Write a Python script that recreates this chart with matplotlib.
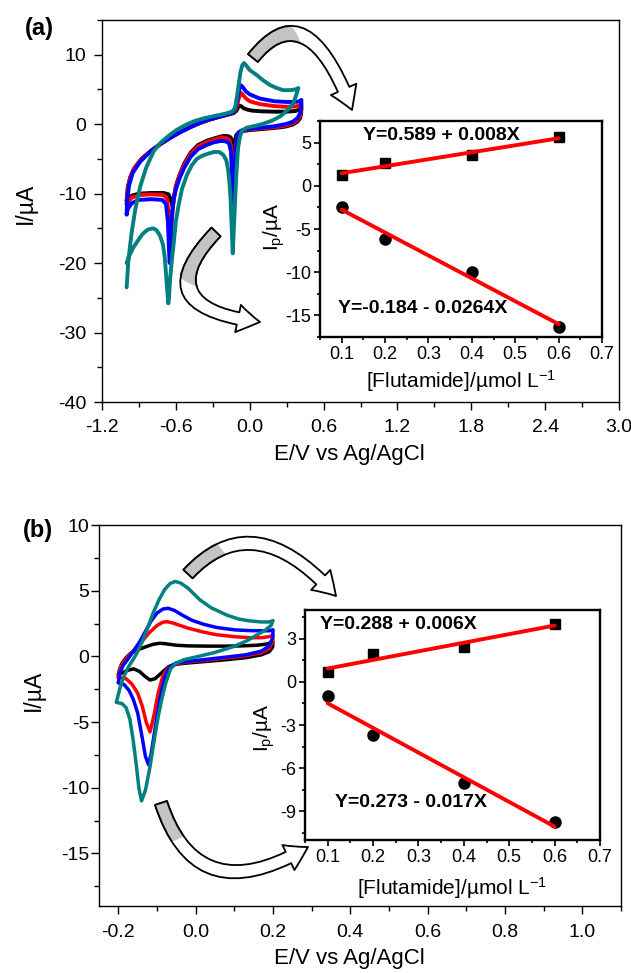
import matplotlib
matplotlib.use('Agg')
import matplotlib.pyplot as plt
from matplotlib.ticker import FixedLocator, MultipleLocator, FormatStrFormatter
from matplotlib.patches import FancyArrowPatch, Circle
from matplotlib.path import Path
from matplotlib.transforms import IdentityTransform
import numpy as np

plt.rcParams['font.family'] = ['Liberation Sans', 'DejaVu Sans']
plt.rcParams['mathtext.default'] = 'regular'
plt.rcParams['axes.unicode_minus'] = False

# ---------------- data: panel (a) CV curves (E / V, I / uA) ----------------
a_black = [(-1.00,-11.0),(-0.99,-9.0),(-0.97,-7.6),(-0.94,-6.4),(-0.88,-5.0),(-0.80,-3.8),(-0.72,-2.8),
           (-0.64,-1.9),(-0.56,-1.1),(-0.48,-0.4),(-0.40,0.2),(-0.32,0.7),(-0.24,1.1),(-0.17,1.4),
           (-0.13,1.6),(-0.11,1.9),(-0.095,2.4),(-0.085,2.7),(-0.07,2.6),(-0.05,2.3),(-0.02,2.1),
           (0.02,1.95),(0.10,1.85),(0.20,1.8),(0.30,1.8),(0.37,1.9),(0.41,2.1),(0.42,2.4),
           (0.418,1.6),(0.41,0.9),(0.39,0.4),(0.35,-0.05),(0.29,-0.35),(0.20,-0.55),(0.10,-0.7),
           (0.00,-0.85),(-0.06,-1.0),(-0.09,-1.2),(-0.11,-1.6),(-0.12,-2.3),(-0.13,-3.7),(-0.14,-2.6),
           (-0.155,-1.9),(-0.18,-1.7),(-0.22,-1.7),(-0.28,-2.0),(-0.35,-2.4),(-0.42,-3.0),(-0.48,-4.1),
           (-0.53,-5.6),(-0.57,-7.3),(-0.60,-8.9),(-0.615,-10.5),(-0.625,-12.0),(-0.64,-10.9),
           (-0.66,-10.1),(-0.70,-9.9),(-0.80,-9.9),(-0.90,-10.0),(-0.96,-10.3),(-1.00,-11.0)]
a_red = [(-1.00,-11.5),(-0.99,-9.2),(-0.97,-7.7),(-0.94,-6.4),(-0.88,-5.0),(-0.80,-3.8),(-0.72,-2.8),
         (-0.64,-1.9),(-0.56,-1.1),(-0.48,-0.4),(-0.40,0.2),(-0.32,0.7),(-0.24,1.1),(-0.17,1.45),
         (-0.13,1.7),(-0.11,2.3),(-0.095,3.3),(-0.08,4.2),(-0.07,4.5),(-0.055,4.2),(-0.03,3.7),
         (0.0,3.3),(0.08,2.9),(0.20,2.6),(0.30,2.5),(0.37,2.55),(0.41,2.7),(0.42,3.0),
         (0.418,2.0),(0.41,1.2),(0.39,0.6),(0.35,0.15),(0.29,-0.2),(0.20,-0.45),(0.10,-0.6),
         (0.00,-0.75),(-0.06,-0.9),(-0.09,-1.2),(-0.105,-2.0),(-0.115,-4.0),(-0.125,-7.0),
         (-0.132,-9.0),(-0.14,-6.5),(-0.15,-3.5),(-0.165,-2.3),(-0.19,-2.0),(-0.23,-1.9),
         (-0.29,-2.2),(-0.35,-2.6),(-0.42,-3.2),(-0.48,-4.3),(-0.53,-5.8),(-0.57,-7.4),(-0.60,-9.0),
         (-0.615,-10.5),(-0.628,-12.5),(-0.638,-15.5),(-0.645,-17.5),(-0.652,-15.5),(-0.66,-12.5),
         (-0.675,-10.6),(-0.70,-10.2),(-0.80,-10.1),(-0.90,-10.2),(-0.96,-10.6),(-1.00,-11.5)]
a_blue = [(-1.00,-13.0),(-0.995,-10.8),(-0.98,-8.8),(-0.95,-7.0),(-0.89,-5.4),(-0.81,-4.0),(-0.73,-2.9),
          (-0.65,-2.0),(-0.57,-1.2),(-0.49,-0.5),(-0.41,0.15),(-0.33,0.65),(-0.25,1.05),(-0.18,1.4),
          (-0.135,1.7),(-0.115,2.4),(-0.10,3.6),(-0.085,5.0),(-0.07,5.6),(-0.055,5.3),(-0.03,4.7),
          (0.0,4.3),(0.08,3.7),(0.20,3.3),(0.30,3.2),(0.37,3.2),(0.41,3.3),(0.42,3.5),
          (0.418,2.4),(0.41,1.6),(0.39,0.9),(0.35,0.35),(0.29,0.0),(0.20,-0.3),(0.10,-0.5),
          (0.00,-0.65),(-0.06,-0.85),(-0.09,-1.2),(-0.105,-2.2),(-0.115,-4.5),(-0.125,-8.0),
          (-0.133,-11.4),(-0.142,-8.0),(-0.152,-4.0),(-0.167,-2.8),(-0.19,-2.5),(-0.23,-2.4),
          (-0.29,-2.6),(-0.35,-3.0),(-0.42,-3.6),(-0.48,-4.7),(-0.53,-6.2),(-0.57,-7.8),(-0.60,-9.4),
          (-0.62,-11.0),(-0.635,-14.0),(-0.645,-18.0),(-0.65,-20.0),(-0.656,-18.0),(-0.665,-14.0),
          (-0.68,-11.5),(-0.71,-10.9),(-0.80,-10.8),(-0.90,-10.9),(-0.96,-11.4),(-0.99,-12.2),(-1.00,-13.0)]
a_teal = [(-1.00,-23.5),(-0.985,-19.5),(-0.96,-15.7),(-0.93,-12.3),(-0.89,-9.0),(-0.84,-6.2),(-0.78,-3.9),
          (-0.72,-2.6),(-0.66,-1.7),(-0.60,-0.9),(-0.52,-0.1),(-0.44,0.5),(-0.36,0.9),(-0.28,1.2),
          (-0.20,1.5),(-0.145,1.8),(-0.12,2.3),(-0.105,3.8),(-0.09,5.6),(-0.075,7.5),(-0.06,8.5),
          (-0.047,8.8),(-0.03,8.5),(0.0,7.8),(0.055,7.1),(0.11,6.3),(0.164,5.64),(0.22,5.2),
          (0.272,4.9),(0.33,4.9),(0.37,5.0),(0.395,5.2),
          (0.385,4.6),(0.37,3.8),(0.354,3.0),(0.32,2.3),(0.28,1.6),(0.246,1.1),(0.18,0.5),(0.10,0.0),
          (0.03,-0.3),(-0.025,-0.5),(-0.06,-0.9),(-0.08,-1.8),(-0.095,-3.5),(-0.108,-7.0),(-0.12,-11.5),
          (-0.13,-15.5),(-0.138,-18.6),(-0.146,-15.0),(-0.155,-11.0),(-0.164,-8.5),(-0.175,-6.6),
          (-0.19,-5.2),(-0.215,-4.4),(-0.25,-4.0),(-0.29,-4.0),(-0.33,-4.2),(-0.38,-4.5),(-0.43,-5.0),
          (-0.47,-5.9),(-0.51,-7.3),(-0.55,-9.3),(-0.58,-11.9),(-0.60,-14.0),(-0.615,-16.7),
          (-0.635,-20.0),(-0.648,-22.6),(-0.656,-25.0),(-0.661,-25.8),(-0.67,-24.0),(-0.68,-21.5),
          (-0.69,-19.2),(-0.705,-17.3),(-0.73,-16.0),(-0.76,-15.2),(-0.79,-15.0),(-0.83,-15.2),
          (-0.87,-15.8),(-0.91,-16.8),(-0.95,-17.9),(-0.98,-19.0),(-1.00,-20.0)]

# ---------------- data: panel (b) CV curves ----------------
b_black = [(-0.200,-1.4),(-0.197,-1.0),(-0.19,-0.5),(-0.18,-0.1),(-0.168,0.25),(-0.15,0.5),(-0.13,0.72),
           (-0.11,0.92),(-0.092,1.0),(-0.075,0.95),(-0.05,0.85),(-0.02,0.8),(0.03,0.78),(0.08,0.78),
           (0.12,0.8),(0.16,0.85),(0.185,0.95),(0.20,1.12),
           (0.199,0.7),(0.19,0.35),(0.17,0.12),(0.13,-0.1),(0.08,-0.25),(0.03,-0.38),(-0.02,-0.5),
           (-0.05,-0.6),(-0.07,-0.78),(-0.09,-1.3),(-0.105,-1.7),(-0.118,-1.8),(-0.13,-1.55),
           (-0.145,-1.15),(-0.16,-0.95),(-0.175,-1.05),(-0.19,-1.25),(-0.20,-1.4)]
b_red = [(-0.200,-1.6),(-0.196,-1.0),(-0.188,-0.5),(-0.175,0.0),(-0.16,0.45),(-0.14,1.1),(-0.12,1.8),
         (-0.10,2.35),(-0.085,2.6),(-0.075,2.64),(-0.06,2.55),(-0.04,2.35),(-0.02,2.15),(0.02,1.85),
         (0.054,1.65),(0.10,1.5),(0.14,1.42),(0.17,1.42),(0.19,1.5),(0.20,1.62),
         (0.199,1.1),(0.19,0.6),(0.17,0.28),(0.13,0.05),(0.08,-0.12),(0.03,-0.28),(-0.02,-0.42),
         (-0.05,-0.55),(-0.07,-0.8),(-0.085,-1.5),(-0.097,-2.8),(-0.108,-4.5),(-0.118,-5.75),
         (-0.128,-5.0),(-0.138,-3.8),(-0.15,-2.8),(-0.165,-2.1),(-0.18,-1.7),(-0.20,-1.6)]
b_blue = [(-0.200,-2.0),(-0.196,-1.3),(-0.188,-0.7),(-0.175,-0.2),(-0.16,0.45),(-0.145,1.1),(-0.13,1.9),
          (-0.115,2.7),(-0.10,3.3),(-0.085,3.6),(-0.071,3.66),(-0.055,3.5),(-0.035,3.15),(-0.01,2.75),
          (0.02,2.45),(0.054,2.2),(0.10,2.02),(0.14,1.96),(0.17,1.95),(0.19,1.95),(0.20,2.02),
          (0.199,1.4),(0.19,0.8),(0.17,0.4),(0.13,0.12),(0.08,-0.05),(0.03,-0.22),(-0.02,-0.38),
          (-0.05,-0.5),(-0.068,-0.8),(-0.08,-1.6),(-0.092,-3.2),(-0.104,-5.3),(-0.115,-7.4),
          (-0.122,-8.25),(-0.13,-7.6),(-0.14,-5.9),(-0.15,-4.3),(-0.161,-3.3),(-0.172,-2.6),
          (-0.185,-2.15),(-0.20,-2.0)]
b_teal = [(-0.205,-3.5),(-0.200,-2.9),(-0.194,-2.2),(-0.185,-1.5),(-0.175,-0.85),(-0.163,-0.3),
          (-0.152,0.25),(-0.14,1.0),(-0.125,2.1),(-0.11,3.3),(-0.095,4.3),(-0.08,5.1),(-0.066,5.55),
          (-0.053,5.7),(-0.04,5.6),(-0.02,5.2),(0.011,4.3),(0.04,3.7),(0.08,3.15),(0.11,2.85),
          (0.14,2.7),(0.17,2.62),(0.19,2.62),(0.20,2.72),
          (0.195,2.35),(0.18,2.0),(0.166,1.76),(0.13,1.15),(0.097,0.74),(0.05,0.3),(0.0,-0.05),
          (-0.03,-0.25),(-0.05,-0.5),(-0.065,-0.95),(-0.077,-2.0),(-0.088,-3.3),(-0.097,-4.6),
          (-0.108,-6.5),(-0.118,-8.4),(-0.13,-10.2),(-0.14,-11.0),(-0.147,-10.0),(-0.153,-8.4),
          (-0.162,-6.3),(-0.17,-4.8),(-0.18,-3.9),(-0.19,-3.6),(-0.205,-3.5)]

# ---------------- data: insets (peak current vs concentration) ----------------
conc = [0.1, 0.2, 0.4, 0.6]
a_ipa = [1.3, 2.6, 3.6, 5.6]
a_ipc = [-2.5, -6.1, -10.0, -16.3]
b_ipa = [0.7, 1.95, 2.45, 4.0]
b_ipc = [-0.95, -3.7, -7.0, -9.75]
a_eq = ["Y=0.589 + 0.008X", "Y=-0.184 - 0.0264X"]
b_eq = ["Y=0.288 + 0.006X", "Y=0.273 - 0.017X"]

a_xticks = [-1.2, -0.6, 0.0, 0.6, 1.2, 1.8, 2.4, 3.0]
a_yticks = [-40, -30, -20, -10, 0, 10]
b_xticks = [-0.2, 0.0, 0.2, 0.4, 0.6, 0.8, 1.0]
b_yticks = [-15, -10, -5, 0, 5, 10]
ins_xticks = [0.1, 0.2, 0.3, 0.4, 0.5, 0.6, 0.7]
ia_yticks = [-15, -10, -5, 0, 5]
ib_yticks = [-9, -6, -3, 0, 3]

curve_colors = ['black', '#ff0000', '#0000ff', '#008080']

# ---------------- figure ----------------
W, H = 631, 973
fig = plt.figure(figsize=(W / 100, H / 100), dpi=100)


def box(l, t, r, b):
    return [l / W, 1 - b / H, (r - l) / W, (b - t) / H]


ax_a = fig.add_axes(box(102, 20, 619, 402))
ax_b = fig.add_axes(box(99, 525, 621, 906))
ins_a = fig.add_axes(box(320, 121, 602, 337))
ins_b = fig.add_axes(box(305, 610, 600, 840))

for ax, curves, lw in ((ax_a, (a_black, a_red, a_blue, a_teal), 2.8),
                       (ax_b, (b_black, b_red, b_blue, b_teal), 2.5)):
    for pts, col in zip(curves, curve_colors):
        E, I = zip(*pts)
        ax.plot(E, I, color=col, lw=lw, solid_joinstyle='round', solid_capstyle='round')


def style_main(ax, xt, yt, xlim, ylim, xminor, yminor, xpad, ypad, fs):
    ax.set_xlim(*xlim)
    ax.set_ylim(*ylim)
    ax.xaxis.set_major_locator(FixedLocator(xt))
    ax.yaxis.set_major_locator(FixedLocator(yt))
    ax.xaxis.set_minor_locator(MultipleLocator(xminor))
    ax.yaxis.set_minor_locator(MultipleLocator(yminor))
    ax.xaxis.set_major_formatter(FormatStrFormatter('%.1f'))
    ax.yaxis.set_major_formatter(FormatStrFormatter('%d'))
    ax.tick_params(which='both', direction='out', top=False, right=False, width=1.0, labelsize=fs)
    ax.tick_params(which='major', length=6)
    ax.tick_params(which='minor', length=3.5)
    ax.tick_params(axis='x', which='major', pad=xpad)
    ax.tick_params(axis='y', which='major', pad=ypad)
    for s in ax.spines.values():
        s.set_linewidth(1.0)


style_main(ax_a, a_xticks, a_yticks, (-1.2, 3.0), (-40, 15), 0.3, 5, 6, 5.5, 14)
style_main(ax_b, b_xticks, b_yticks, (-0.25, 1.1), (-19, 10), 0.1, 2.5, 7, 1, 14)

ax_a.set_xlabel('E/V vs Ag/AgCl', fontsize=16)
ax_a.set_ylabel('I/\u00b5A', fontsize=16.5)
ax_a.xaxis.set_label_coords(0.478, -0.11)
ax_a.yaxis.set_label_coords(-0.126, 0.52)
ax_b.set_xlabel('E/V vs Ag/AgCl', fontsize=16)
ax_b.set_ylabel('I/\u00b5A', fontsize=16.5)
ax_b.xaxis.set_label_coords(0.479, -0.11)
ax_b.yaxis.set_label_coords(-0.103, 0.567)

fig.text(39 / W, 1 - 29 / H, '(a)', fontsize=17, fontweight='bold', ha='center', va='center')
fig.text(38 / W, 1 - 531 / H, '(b)', fontsize=17, fontweight='bold', ha='center', va='center')

# ---------------- insets ----------------
for ins, ipa, ipc, eqs, yt, ylim, yminor, eqpos, ylc, xlc in (
        (ins_a, a_ipa, a_ipc, a_eq, ia_yticks, (-17.5, 7.5), 2.5,
         ((0.43, 0.935), (0.365, 0.13)), (-0.117, 0.509), (0.5, -0.145)),
        (ins_b, b_ipa, b_ipc, b_eq, ib_yticks, (-11, 5), 1.5,
         ((0.315, 0.935), (0.36, 0.165)), (-0.095, 0.487), (0.498, -0.152))):
    ins.plot(conc, ipa, 's', color='black', ms=7.5, zorder=3)
    ins.plot(conc, ipc, 'o', color='black', ms=8, zorder=3)
    xs = np.array([conc[0], conc[-1]])
    for vals in (ipa, ipc):
        k, b0 = np.polyfit(conc, vals, 1)
        ins.plot(xs, k * xs + b0, color='#ff0000', lw=2.8, solid_capstyle='round', zorder=4)
    for s, (fx, fy) in zip(eqs, eqpos):
        ins.text(fx, fy, s, transform=ins.transAxes, ha='center', va='center',
                 fontsize=14, fontweight='bold', zorder=5)
    ins.set_xlim(0.05, 0.7)
    ins.set_ylim(*ylim)
    ins.xaxis.set_major_locator(FixedLocator(ins_xticks))
    ins.yaxis.set_major_locator(FixedLocator(yt))
    ins.xaxis.set_minor_locator(MultipleLocator(0.05))
    ins.yaxis.set_minor_locator(MultipleLocator(yminor))
    ins.xaxis.set_major_formatter(FormatStrFormatter('%.1f'))
    ins.yaxis.set_major_formatter(FormatStrFormatter('%d'))
    ins.tick_params(which='both', direction='out', top=False, right=False, width=1.2, labelsize=13, pad=2)
    ins.tick_params(which='major', length=4.5)
    ins.tick_params(which='minor', length=2.5)
    for s in ins.spines.values():
        s.set_linewidth(1.7)
    ins.set_xlabel('[Flutamide]/\u00b5mol L$^{-1}$', fontsize=15)
    ins.set_ylabel('I$_p$/\u00b5A', fontsize=15)
    ins.xaxis.set_label_coords(*xlc)
    ins.yaxis.set_label_coords(*ylc)

# ---------------- curved block arrows (decorative) ----------------


def P(x, y):
    return (x, H - y)


def curved_arrow(A, C, B, r_gray):
    path = Path([P(*A), P(*C), P(*B)], [Path.MOVETO, Path.CURVE3, Path.CURVE3])
    style = "simple,head_width=2.0,head_length=1.6,tail_width=0.9"
    base = FancyArrowPatch(path=path, arrowstyle=style, mutation_scale=10,
                           fc='white', ec='black', lw=1.3, transform=IdentityTransform(), zorder=6)
    fig.add_artist(base)
    gray = FancyArrowPatch(path=path, arrowstyle=style, mutation_scale=10,
                           fc='#c4c4c4', ec='black', lw=1.3, transform=IdentityTransform(), zorder=6)
    fig.add_artist(gray)
    gray.set_clip_path(Circle(P(*A), r_gray, transform=IdentityTransform()))


curved_arrow((253, 58), (307, -10), (352, 110), 50)
curved_arrow((216, 232), (143, 308), (260, 322), 58)
curved_arrow((188, 574), (254, 503), (336, 596), 42)
curved_arrow((161, 803), (197, 913), (308, 847), 40)

fig.savefig('out.png', dpi=100)
